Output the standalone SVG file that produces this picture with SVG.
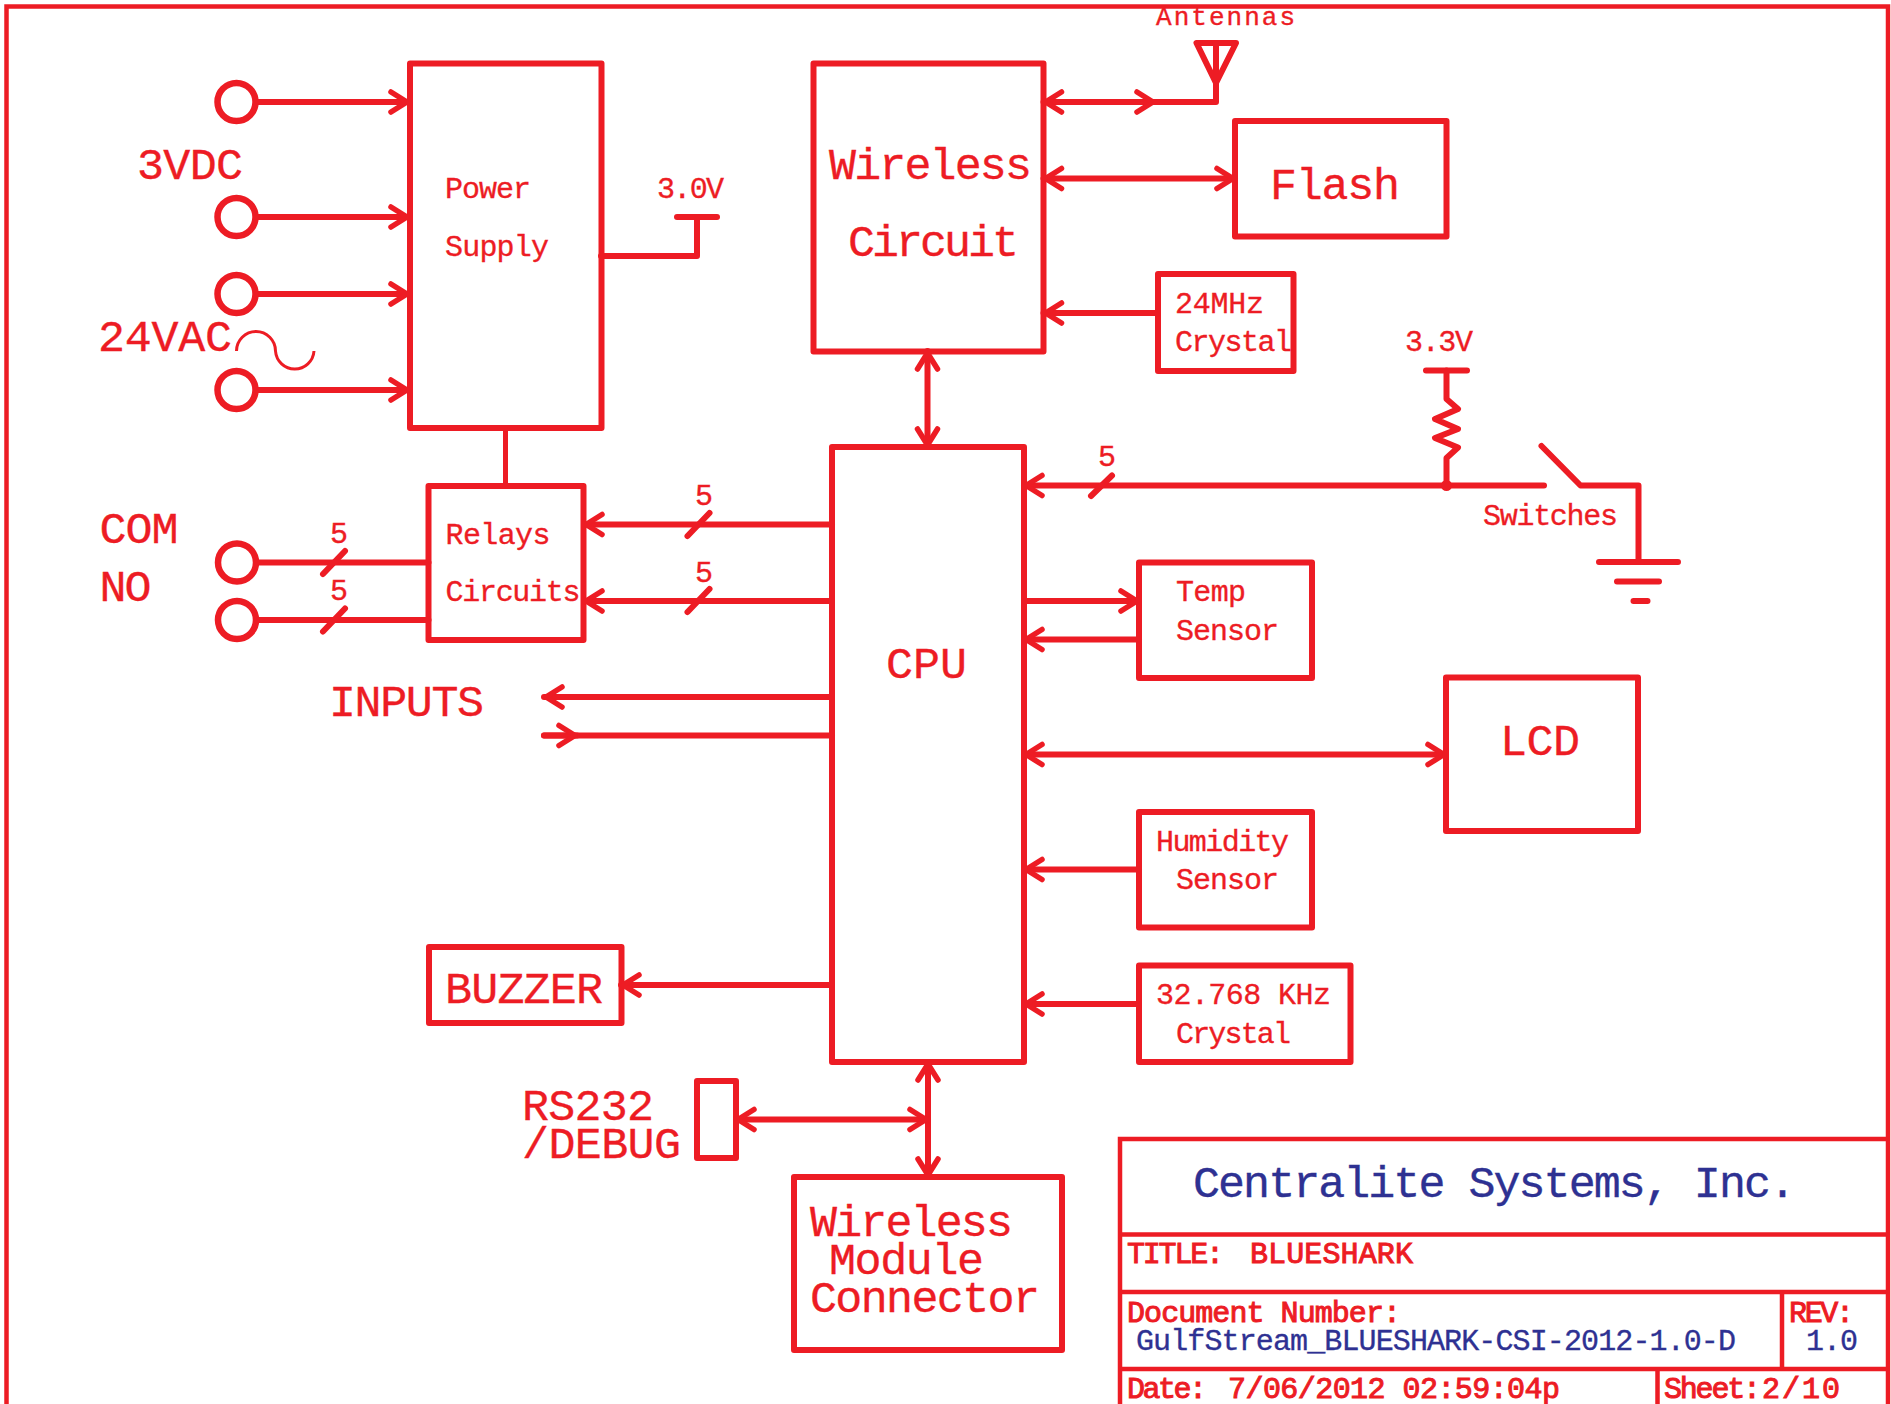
<svg xmlns="http://www.w3.org/2000/svg" width="1891" height="1404" viewBox="0 0 1891 1404">
<style>
text{font-family:"Liberation Mono","DejaVu Sans Mono",monospace;fill:#ed1c24;stroke:#ed1c24;stroke-width:.35;white-space:pre}
.b{font-size:45px}
.s{font-size:30px}
.t{stroke-width:1;font-size:30px}
.blue{fill:#2e3192;stroke:#2e3192}
.box{fill:none;stroke:#ed1c24;stroke-width:6;stroke-linejoin:round}
.term{fill:none;stroke:#ed1c24;stroke-width:6.500}
.w{fill:none;stroke:#ed1c24;stroke-width:6;stroke-linecap:round;stroke-linejoin:round}
.a{marker-end:url(#h)}
.d{marker-end:url(#h);marker-start:url(#h)}
.r{marker-start:url(#h)}
.f{fill:none;stroke:#ed1c24;stroke-width:4.500}
</style>
<defs>
<marker id="h" markerUnits="userSpaceOnUse" markerWidth="30" markerHeight="30" refX="0" refY="0" viewBox="-25 -15 30 30" orient="auto-start-reverse" overflow="visible"><path d="M-18-10-2 0-18 10" fill="none" stroke="#ed1c24" stroke-width="5.500" stroke-linecap="round" stroke-linejoin="round"/></marker>
</defs>
<rect width="1891" height="1404" fill="#fff"/>
<g id="frame">
<path class="f" d="M6.500 1404V6.500H1888V1404"/>
</g>
<g id="connectors">
<path class="w a" d="M257 102H409"/>
<path class="w a" d="M257 217H409"/>
<path class="w a" d="M257 294H409"/>
<path class="w a" d="M257 390H409"/>
<path class="w" d="M601 256H697V217"/>
<path class="w" d="M505.500 428V486" style="stroke-width:5"/>
<path class="w d" d="M1043.500 102H1155"/>
<path class="w" d="M1155 102H1216V83"/>
<path class="w d" d="M1043.500 178.500H1235"/>
<path class="w r" d="M1043.500 313H1158"/>
<path class="w d" d="M927.500 351V447"/>
<path class="w r" d="M1024 485.500H1544"/>
<path class="w" d="M1091 496 1112 475.500"/>
<path class="w" d="M1446.500 370.500V399L1458 409 1435 419 1458 429 1435 438 1458 447.500 1446.500 458V485.500"/>
<circle cx="1446.500" cy="485.500" r="5.500" fill="#ed1c24"/>
<path class="w" d="M1541.500 446 1580.500 485.500H1638.500V562"/>
<path class="w a" d="M832 524.500H584"/>
<path class="w a" d="M832 601H584"/>
<path class="w" d="M687.500 536 709.500 513"/>
<path class="w" d="M687.500 612 709.500 589"/>
<path class="w" d="M257 562.500H428.500"/>
<path class="w" d="M257 620H428.500"/>
<path class="w" d="M323 574 345 551"/>
<path class="w" d="M323 631.500 345 608.500"/>
<path class="w a" d="M832 697H544"/>
<path class="w" d="M832 735.500H544"/>
<path class="w a" d="M544 735.500H577"/>
<path class="w a" d="M1024 601H1139"/>
<path class="w a" d="M1139 639.500H1024"/>
<path class="w d" d="M1024 754.500H1446"/>
<path class="w a" d="M1139 869.500H1024"/>
<path class="w a" d="M1139 1004H1024"/>
<path class="w a" d="M832 985H621"/>
<path class="w d" d="M928 1062V1177"/>
<path class="w d" d="M736 1119.500H928"/>
</g>
<g id="term-1"><circle class="term" cx="236.500" cy="102" r="19"/></g>
<g id="term-2"><circle class="term" cx="236.500" cy="217" r="19"/></g>
<g id="term-3"><circle class="term" cx="236.500" cy="294" r="19"/></g>
<g id="term-4"><circle class="term" cx="236.500" cy="390" r="19"/></g>
<g id="term-com"><circle class="term" cx="237" cy="562.500" r="19"/></g>
<g id="term-no"><circle class="term" cx="237" cy="620" r="19"/></g>
<g id="label-3vdc"><text class="b" x="137" y="179" textLength="106">3VDC</text></g>
<g id="label-24vac"><text class="b" x="98" y="351" textLength="134">24VAC</text>
<path d="M236.500 351A19.500 19.500 0 0 1 275.500 351A19.300 19.500 0 0 0 314 351" fill="none" stroke="#ed1c24" stroke-width="3"/></g>
<g id="power-supply"><rect class="box" x="410" y="63.500" width="191.500" height="364.500"/>
<text class="s" x="445" y="198" textLength="86">Power</text>
<text class="s" x="445" y="256" textLength="104">Supply</text></g>
<g id="rail-3v0"><path class="w" d="M677 217H717"/><text class="s" x="657" y="198" textLength="67">3.0V</text></g>
<g id="wireless-circuit"><rect class="box" x="813.500" y="63.500" width="230" height="288"/>
<text class="b" x="829" y="179" textLength="203">Wireless</text>
<text class="b" x="848" y="256" textLength="171">Circuit</text></g>
<g id="antenna"><path class="w" d="M1196.500 43H1236L1216 83ZM1216 43V83"/>
<text x="1156" y="25" textLength="139" style="font-size:26px">Antennas</text></g>
<g id="flash"><rect class="box" x="1235" y="121" width="211.500" height="115.500"/>
<text class="b" x="1270" y="198.500" textLength="130">Flash</text></g>
<g id="crystal-24"><rect class="box" x="1158" y="274" width="135.500" height="97"/>
<text class="s" x="1175" y="313" textLength="89">24MHz</text>
<text class="s" x="1175" y="351" textLength="117">Crystal</text></g>
<g id="rail-3v3"><path class="w" d="M1426 370.500H1467"/><text class="s" x="1405" y="351" textLength="68">3.3V</text></g>
<g id="switches"><text class="s" x="1483" y="524.500" textLength="135">Switches</text></g>
<g id="ground"><path class="w" d="M1599 562H1678M1617 581.500H1659M1633.500 601H1647.500"/></g>
<g id="cpu"><rect class="box" x="832" y="447" width="192" height="615"/>
<text class="b" x="886" y="678" textLength="81">CPU</text></g>
<g id="relay-circuits"><rect class="box" x="428.500" y="486" width="155" height="154"/>
<text class="s" x="445.500" y="543.500" textLength="105">Relays</text>
<text class="s" x="445.500" y="600.500" textLength="135">Circuits</text></g>
<g id="bus-labels">
<text class="s" x="1098" y="466" textLength="19">5</text>
<text class="s" x="695" y="505" textLength="19">5</text>
<text class="s" x="695" y="581.500" textLength="19">5</text>
<text class="s" x="330" y="542.500" textLength="19">5</text>
<text class="s" x="330" y="600" textLength="19">5</text>
</g>
<g id="label-com"><text class="b" x="99.500" y="543" textLength="79">COM</text></g>
<g id="label-no"><text class="b" x="99.500" y="600.500" textLength="52">NO</text></g>
<g id="label-inputs"><text class="b" x="329" y="716" textLength="155">INPUTS</text></g>
<g id="temp-sensor"><rect class="box" x="1139" y="562.500" width="173" height="115.500"/>
<text class="s" x="1176" y="600.500" textLength="70">Temp</text>
<text class="s" x="1176" y="639.500" textLength="103">Sensor</text></g>
<g id="lcd"><rect class="box" x="1446" y="677.500" width="192" height="153.500"/>
<text class="b" x="1500" y="754.500" textLength="80">LCD</text></g>
<g id="humidity-sensor"><rect class="box" x="1139" y="812" width="173" height="115.500"/>
<text class="s" x="1156" y="850.500" textLength="133">Humidity</text>
<text class="s" x="1176" y="889" textLength="103">Sensor</text></g>
<g id="crystal-32"><rect class="box" x="1139" y="965.500" width="211.500" height="96.500"/>
<text class="s" x="1156" y="1004" textLength="175">32.768 KHz</text>
<text class="s" x="1176" y="1042.500" textLength="115">Crystal</text></g>
<g id="buzzer"><rect class="box" x="429" y="947" width="192.500" height="76"/>
<text class="b" x="445" y="1003" textLength="158">BUZZER</text></g>
<g id="rs232"><rect class="box" x="697" y="1081" width="39" height="77"/>
<text class="b" x="522" y="1119.500" textLength="132">RS232</text>
<text class="b" x="522" y="1158" textLength="159">/DEBUG</text></g>
<g id="wireless-connector"><rect class="box" x="794" y="1177" width="268" height="173"/>
<text class="b" x="810" y="1235.500" textLength="203">Wireless</text>
<text class="b" x="829" y="1274" textLength="155">Module</text>
<text class="b" x="810" y="1312" textLength="230">Connector</text></g>
<g id="title-block">
<path class="f" d="M1120 1404V1139H1888M1120 1234.500H1888M1120 1292H1888M1120 1369H1888M1782 1292V1369M1657.500 1369V1404"/>
<text class="b blue" x="1193" y="1196.500" textLength="603">Centralite Systems, Inc.</text>
<text class="t" y="1263"><tspan x="1127" textLength="97">TITLE:</tspan><tspan x="1250" textLength="163">BLUESHARK</tspan></text>
<text class="t" x="1127" y="1321.500" textLength="274">Document Number:</text>
<text class="s blue" x="1136" y="1350" textLength="600">GulfStream_BLUESHARK-CSI-2012-1.0-D</text>
<text class="t" x="1789" y="1321.500" textLength="65">REV:</text>
<text class="s blue" x="1806" y="1350" textLength="52">1.0</text>
<text class="t" y="1398"><tspan x="1127" textLength="80">Date:</tspan><tspan x="1228" textLength="332">7/06/2012 02:59:04p</tspan></text>
<text class="t" y="1398"><tspan x="1664" textLength="97">Sheet:</tspan><tspan x="1762" textLength="78">2/10</tspan></text>
</g>
</svg>
